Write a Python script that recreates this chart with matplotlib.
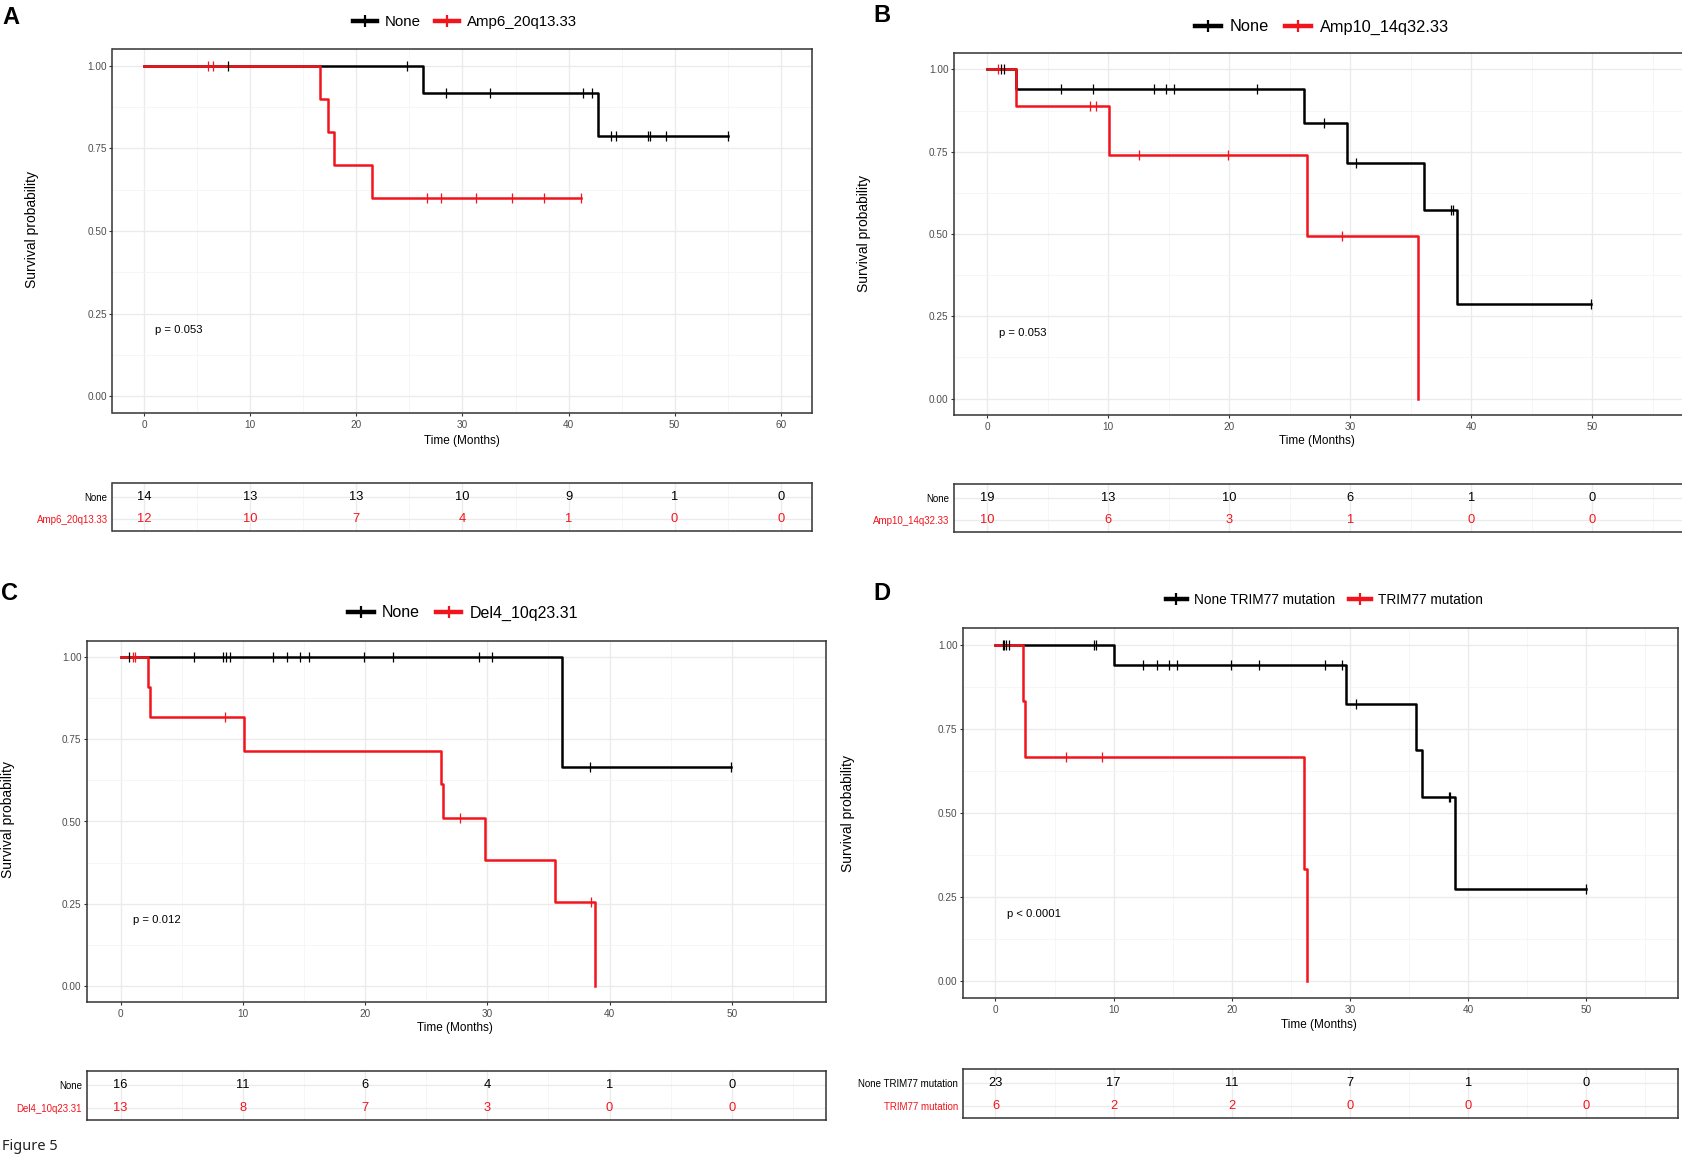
import numpy as np
import matplotlib.pyplot as plt
from matplotlib.lines import Line2D

plt.rcParams['font.family'] = ['Liberation Sans', 'DejaVu Sans']

BLACK = '#000000'
RED = '#F2141C'
GRID = '#EBEBEB'
GRID_MINOR = '#F5F5F5'
BORDER = '#333333'

# ---------------- data ----------------
# A: Amp6_20q13.33
a_labels = ['None', 'Amp6_20q13.33']
a_none_t = [0, 26.3, 42.8, 55.0]
a_none_s = [1.0, 0.917, 0.786, 0.786]
a_none_cens = [7.9, 24.8, 28.4, 32.6, 41.4, 42.2, 44.0, 44.5, 47.5, 47.7, 49.2, 55.0]
a_grp_t = [0, 16.6, 17.3, 17.9, 21.5, 41.2]
a_grp_s = [1.0, 0.9, 0.8, 0.7, 0.6, 0.6]
a_grp_cens = [6.0, 6.5, 26.7, 28.0, 31.3, 34.7, 37.7, 41.2]
a_breaks = [0, 10, 20, 30, 40, 50, 60]
a_risk_none = [14, 13, 13, 10, 9, 1, 0]
a_risk_grp = [12, 10, 7, 4, 1, 0, 0]
a_pval = 'p = 0.053'

# B: Amp10_14q32.33
b_labels = ['None', 'Amp10_14q32.33']
b_none_t = [0, 2.36, 26.2, 29.7, 36.1, 38.8, 49.9]
b_none_s = [1.0, 0.941, 0.837, 0.717, 0.574, 0.287, 0.287]
b_none_cens = [1.1, 1.35, 6.1, 8.7, 13.8, 14.8, 15.4, 22.3, 27.8, 30.5, 38.3, 38.5, 49.9]
b_grp_t = [0, 2.36, 10.1, 26.4, 35.6]
b_grp_s = [1.0, 0.889, 0.741, 0.494, 0.0]
b_grp_cens = [0.86, 8.5, 9.0, 12.5, 19.9, 29.3]
b_breaks = [0, 10, 20, 30, 40, 50]
b_risk_none = [19, 13, 10, 6, 1, 0]
b_risk_grp = [10, 6, 3, 1, 0, 0]
b_pval = 'p = 0.053'

# C: Del4_10q23.31
c_labels = ['None', 'Del4_10q23.31']
c_none_t = [0, 36.1, 49.9]
c_none_s = [1.0, 0.667, 0.667]
c_none_cens = [0.7, 6.0, 8.4, 8.6, 8.95, 12.5, 13.6, 14.7, 15.4, 19.9, 22.3, 29.3, 30.4, 38.4, 49.9]
c_grp_t = [0, 2.2, 2.4, 10.1, 26.2, 26.4, 29.8, 35.5, 38.8]
c_grp_s = [1.0, 0.909, 0.818, 0.716, 0.614, 0.511, 0.384, 0.256, 0.0]
c_grp_cens = [1.0, 1.2, 8.5, 27.8, 38.5]
c_breaks = [0, 10, 20, 30, 40, 50]
c_risk_none = [16, 11, 6, 4, 1, 0]
c_risk_grp = [13, 8, 7, 3, 0, 0]
c_pval = 'p = 0.012'

# D: TRIM77 mutation
d_labels = ['None TRIM77 mutation', 'TRIM77 mutation']
d_none_t = [0, 10.05, 29.7, 35.6, 36.1, 38.9, 50.0]
d_none_s = [1.0, 0.941, 0.824, 0.686, 0.549, 0.274, 0.274]
d_none_cens = [0.6, 0.75, 0.86, 1.13, 8.3, 8.5, 12.5, 13.7, 14.7, 15.4, 19.9, 22.3,
               27.9, 29.3, 30.5, 38.4, 38.5, 50.0]
d_grp_t = [0, 2.35, 2.5, 26.1, 26.4]
d_grp_s = [1.0, 0.833, 0.667, 0.333, 0.0]
d_grp_cens = [6.0, 9.0]
d_breaks = [0, 10, 20, 30, 40, 50]
d_risk_none = [23, 17, 11, 7, 1, 0]
d_risk_grp = [6, 2, 2, 0, 0, 0]
d_pval = 'p < 0.0001'

# ---------------- figure ----------------
W, H = 1683, 1162
fig = plt.figure(figsize=(W / 100, H / 100), dpi=100)


def rect(x0, y0, x1, y1):
    # pixel box, origin top-left -> figure fraction
    return [x0 / W, 1 - y1 / H, (x1 - x0) / W, (y1 - y0) / H]


def style(ax, xmax, breaks):
    ax.set_xlim(-0.05 * xmax, 1.05 * xmax)
    ax.set_xticks(breaks)
    minor = [b + 5 for b in breaks if b + 5 <= 1.05 * xmax]
    ax.set_xticks(minor, minor=True)
    ax.tick_params(which='minor', length=0)
    ax.grid(which='major', color=GRID, lw=1.0)
    ax.grid(which='minor', color=GRID_MINOR, lw=0.6)
    ax.set_axisbelow(True)
    for sp in ax.spines.values():
        sp.set_color(BORDER)
        sp.set_linewidth(1.1)


def km_panel(box, xmax, breaks, curves, pval):
    ax = fig.add_axes(rect(*box))
    style(ax, xmax, breaks)
    ax.set_ylim(-0.05, 1.05)
    ax.set_yticks([0, 0.25, 0.5, 0.75, 1.0])
    ax.set_yticks([0.125, 0.375, 0.625, 0.875], minor=True)
    ax.set_yticklabels(['0.00', '0.25', '0.50', '0.75', '1.00'])
    ax.tick_params(which='major', length=2.2, width=0.8, color=BORDER,
                   labelsize=7.2, labelcolor='#4D4D4D', pad=1.8)
    ax.tick_params(axis='x', pad=3)
    for t, s, cens, col in curves:
        t = np.asarray(t)
        s = np.asarray(s)
        ax.step(t, s, where='post', color=col, lw=1.8, zorder=3)
        idx = np.searchsorted(t, cens, side='right') - 1
        ax.plot(cens, s[idx], ls='none', marker='|', ms=6.5, mew=0.9,
                color=col, zorder=4)
    ax.text(1.0, 0.2, pval, fontsize=8.1, ha='left', va='center')
    return ax


def risk_table(box, xmax, breaks, labels, rows):
    ax = fig.add_axes(rect(*box))
    style(ax, xmax, breaks)
    ax.set_ylim(0.45, 2.65)
    ax.set_yticks([2, 1])
    ax.set_yticklabels(labels)
    ax.tick_params(axis='x', which='major', length=0, labelbottom=False)
    ax.tick_params(axis='y', length=0, labelsize=7, pad=3.5)
    for lab, col in zip(ax.get_yticklabels(), [BLACK, RED]):
        lab.set_color(col)
    for yv, (vals, col) in zip([2, 1], rows):
        for b, v in zip(breaks, vals):
            ax.text(b, yv, str(v), ha='center', va='center', fontsize=9.3, color=col)
    return ax


def legend(cx, cy, labels, size):
    handles = [Line2D([], [], color=BLACK, lw=3.2, marker='|', ms=9, mew=1.6),
               Line2D([], [], color=RED, lw=3.2, marker='|', ms=9, mew=1.6)]
    fig.legend(handles, labels, loc='center', bbox_to_anchor=(cx / W, 1 - cy / H),
               ncol=2, frameon=False, fontsize=size, handlelength=1.6,
               handletextpad=0.5, columnspacing=1.0, borderpad=0)


def label(x, y, s, **kw):
    fig.text(x / W, 1 - y / H, s, **kw)


panels = [
    dict(letter='A', lpos=(2, 17), leg=(465, 22), legsize=10.8,
         main=(112.5, 49, 812.5, 413), table=(112.5, 483, 812.5, 531),
         ylab=(32, 230), xlab=(462, 441), xmax=60, breaks=a_breaks, labels=a_labels,
         curves=[(a_none_t, a_none_s, a_none_cens, BLACK), (a_grp_t, a_grp_s, a_grp_cens, RED)],
         rows=[(a_risk_none, BLACK), (a_risk_grp, RED)], pval=a_pval),
    dict(letter='B', lpos=(873, 16), leg=(1322, 27), legsize=11.8,
         main=(954, 53, 1686, 415), table=(954, 484, 1686, 532),
         ylab=(864, 233), xlab=(1317, 441), xmax=55, breaks=b_breaks, labels=b_labels,
         curves=[(b_none_t, b_none_s, b_none_cens, BLACK), (b_grp_t, b_grp_s, b_grp_cens, RED)],
         rows=[(b_risk_none, BLACK), (b_risk_grp, RED)], pval=b_pval),
    dict(letter='C', lpos=(1, 593), leg=(463, 613), legsize=11.5,
         main=(87, 641, 826.5, 1002), table=(87, 1071, 826.5, 1120),
         ylab=(8, 820), xlab=(455, 1028), xmax=55, breaks=c_breaks, labels=c_labels,
         curves=[(c_none_t, c_none_s, c_none_cens, BLACK), (c_grp_t, c_grp_s, c_grp_cens, RED)],
         rows=[(c_risk_none, BLACK), (c_risk_grp, RED)], pval=c_pval),
    dict(letter='D', lpos=(873, 594), leg=(1324, 600), legsize=9.8,
         main=(963, 628, 1678, 998), table=(963, 1069, 1678, 1118),
         ylab=(848, 813), xlab=(1319, 1025), xmax=55, breaks=d_breaks, labels=d_labels,
         curves=[(d_none_t, d_none_s, d_none_cens, BLACK), (d_grp_t, d_grp_s, d_grp_cens, RED)],
         rows=[(d_risk_none, BLACK), (d_risk_grp, RED)], pval=d_pval),
]

for p in panels:
    km_panel(p['main'], p['xmax'], p['breaks'], p['curves'], p['pval'])
    risk_table(p['table'], p['xmax'], p['breaks'], p['labels'], p['rows'])
    legend(*p['leg'], p['labels'], p['legsize'])
    label(*p['lpos'], p['letter'], fontsize=17, fontweight='bold', ha='left', va='center')
    label(*p['ylab'], 'Survival probability', rotation=90, fontsize=10, ha='center', va='center')
    label(*p['xlab'], 'Time (Months)', fontsize=8.5, ha='center', va='center')

label(2, 1147, 'Figure 5', fontsize=10.5, color='#222222', ha='left', va='center',
      family=['Noto Sans', 'DejaVu Sans'])

fig.savefig('out.png', dpi=100, facecolor='white')
